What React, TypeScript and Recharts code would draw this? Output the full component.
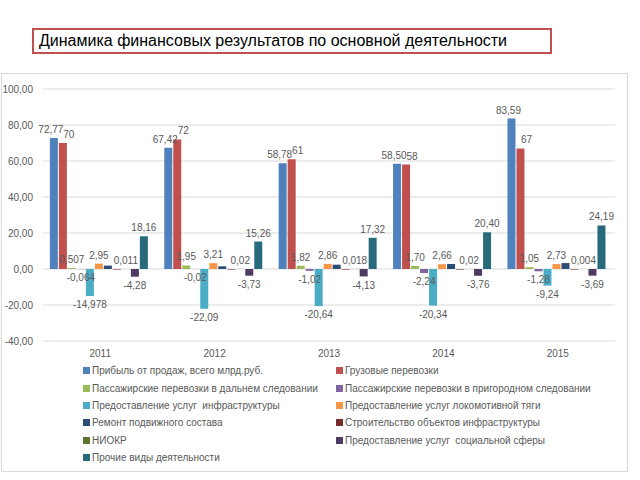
import { Bar, BarChart, CartesianGrid, LabelList, Legend, XAxis, YAxis } from "recharts"

const years = ["2011", "2012", "2013", "2014", "2015"]

const seriesNames = [
  "Прибыль от продаж, всего млрд.руб.",
  "Грузовые перевозки",
  "Пассажирские перевозки в дальнем следовании",
  "Пассажирские перевозки в пригородном следовании",
  "Предоставление услуг  инфраструктуры",
  "Предоставление услуг локомотивной тяги",
  "Ремонт подвижного состава",
  "Строительство объектов инфраструктуры",
  "НИОКР",
  "Предоставление услуг  социальной сферы",
  "Прочие виды деятельности",
]

const colors = [
  "#4F81BD",
  "#C0504D",
  "#9BBB59",
  "#8064A2",
  "#4BACC6",
  "#F79646",
  "#2C4D75",
  "#772C2A",
  "#5F7530",
  "#4D3B62",
  "#276A7C",
]

const profit = [72.77, 67.42, 58.78, 58.5, 83.59]
const freight = [70, 72, 61, 58, 67]
const longDistance = [0.507, 1.95, 1.82, 1.7, 1.05]
const suburban = [-0.064, -0.02, -1.02, -2.24, -1.28]
const infrastructure = [-14.978, -22.09, -20.64, -20.34, -9.24]
const traction = [2.95, 3.21, 2.86, 2.66, 2.73]
const repair = [1.9, 1.5, 2.4, 2.8, 3.3]
const construction = [-0.3, -0.3, -0.3, -0.3, -0.3]
const research = [0.011, 0.02, 0.018, 0.02, 0.004]
const social = [-4.28, -3.73, -4.13, -3.76, -3.69]
const other = [18.16, 15.26, 17.32, 20.4, 24.19]

const profitLabels = ["72,77", "67,42", "58,78", "58,50", "83,59"]
const freightLabels = ["70", "72", "61", "58", "67"]
const longDistanceLabels = ["0,507", "1,95", "1,82", "1,70", "1,05"]
const suburbanLabels = ["-0,064", "-0,02", "-1,02", "-2,24", "-1,28"]
const infrastructureLabels = ["-14,978", "-22,09", "-20,64", "-20,34", "-9,24"]
const tractionLabels = ["2,95", "3,21", "2,86", "2,66", "2,73"]
const researchLabels = ["0,011", "0,02", "0,018", "0,02", "0,004"]
const socialLabels = ["-4,28", "-3,73", "-4,13", "-3,76", "-3,69"]
const otherLabels = ["18,16", "15,26", "17,32", "20,40", "24,19"]

const yTicks = [-40, -20, 0, 20, 40, 60, 80, 100]

const seriesValues = [
  profit,
  freight,
  longDistance,
  suburban,
  infrastructure,
  traction,
  repair,
  construction,
  research,
  social,
  other,
]
const seriesLabels = [
  profitLabels,
  freightLabels,
  longDistanceLabels,
  suburbanLabels,
  infrastructureLabels,
  tractionLabels,
  null,
  null,
  researchLabels,
  socialLabels,
  otherLabels,
]
// small horizontal nudges so neighbouring labels don't collide (as in the original)
const labelShift = [-3, 6, 0, 0, 0, 0, 0, 0, 0, 0, 0]

const data = years.map((year, i) => {
  const row: Record<string, string | number> = { year }
  seriesValues.forEach((vals, s) => {
    row[`s${s}`] = vals[i]
    const labels = seriesLabels[s]
    if (labels) row[`l${s}`] = labels[i]
  })
  return row
})

const font = "'Liberation Sans', Arial, sans-serif"
const grey = "#595959"

function LegendBlock({ payload }: any) {
  const items = [...(payload ?? [])].sort(
    (a: any, b: any) => seriesNames.indexOf(a.value) - seriesNames.indexOf(b.value)
  )
  return (
    <div
      style={{
        display: "grid",
        gridTemplateColumns: "253px 260px",
        rowGap: 4,
        fontFamily: font,
        fontSize: 10,
        color: grey,
      }}
    >
      {items.map((p: any) => (
        <div key={p.value} style={{ display: "flex", alignItems: "center", height: 13.4 }}>
          <span
            style={{
              width: 7,
              height: 7,
              background: p.color,
              marginRight: 2,
              display: "inline-block",
            }}
          />
          <span style={{ whiteSpace: "pre" }}>{p.value}</span>
        </div>
      ))}
    </div>
  )
}

export default function App() {
  return (
    <div
      style={{
        position: "absolute",
        left: 0,
        top: 0,
        width: 640,
        height: 480,
        background: "#fff",
        fontFamily: font,
      }}
    >
      <div
        style={{
          position: "absolute",
          left: 32,
          top: 28,
          width: 511,
          height: 22,
          border: "2px solid #C0504D",
          fontSize: 16,
          lineHeight: "22px",
          paddingLeft: 5,
          color: "#000",
        }}
      >
        Динамика финансовых результатов по основной деятельности
      </div>
      <div
        style={{
          position: "absolute",
          left: 1,
          top: 73,
          width: 625,
          height: 397,
          border: "1px solid #D9D9D9",
        }}
      />
      <div style={{ position: "absolute", left: 0, top: 0 }}>
        <BarChart
          width={640}
          height={480}
          data={data}
          margin={{ top: 89, right: 25, bottom: 119, left: 3 }}
          barCategoryGap="6%"
          barGap={1}
        >
          <CartesianGrid vertical={false} stroke="#D9D9D9" />
          <XAxis
            dataKey="year"
            height={20}
            axisLine={false}
            tickLine={false}
            tickSize={0}
            tickMargin={9}
            tick={{ fill: grey, fontSize: 10, fontFamily: font }}
          />
          <YAxis
            width={40}
            domain={[-40, 100]}
            ticks={yTicks}
            axisLine={false}
            tickLine={false}
            tickSize={0}
            tickMargin={10}
            tickFormatter={(v: number) => v.toFixed(2).replace(".", ",")}
            tick={{ fill: grey, fontSize: 10, fontFamily: font }}
          />
          <Legend
            layout="horizontal"
            verticalAlign="middle"
            align="center"
            wrapperStyle={{ left: 83, top: 364, width: 520 }}
            content={<LegendBlock />}
          />
          {seriesNames.map((name, s) => (
            <Bar
              key={name}
              dataKey={`s${s}`}
              name={name}
              fill={colors[s]}
              isAnimationActive={false}
            >
              {seriesLabels[s] && (
                <LabelList
                  dataKey={`l${s}`}
                  position="top"
                  offset={5}
                  dx={labelShift[s]}
                  fill={grey}
                  fontSize={10}
                  fontFamily={font}
                />
              )}
            </Bar>
          ))}
        </BarChart>
      </div>
    </div>
  )
}
